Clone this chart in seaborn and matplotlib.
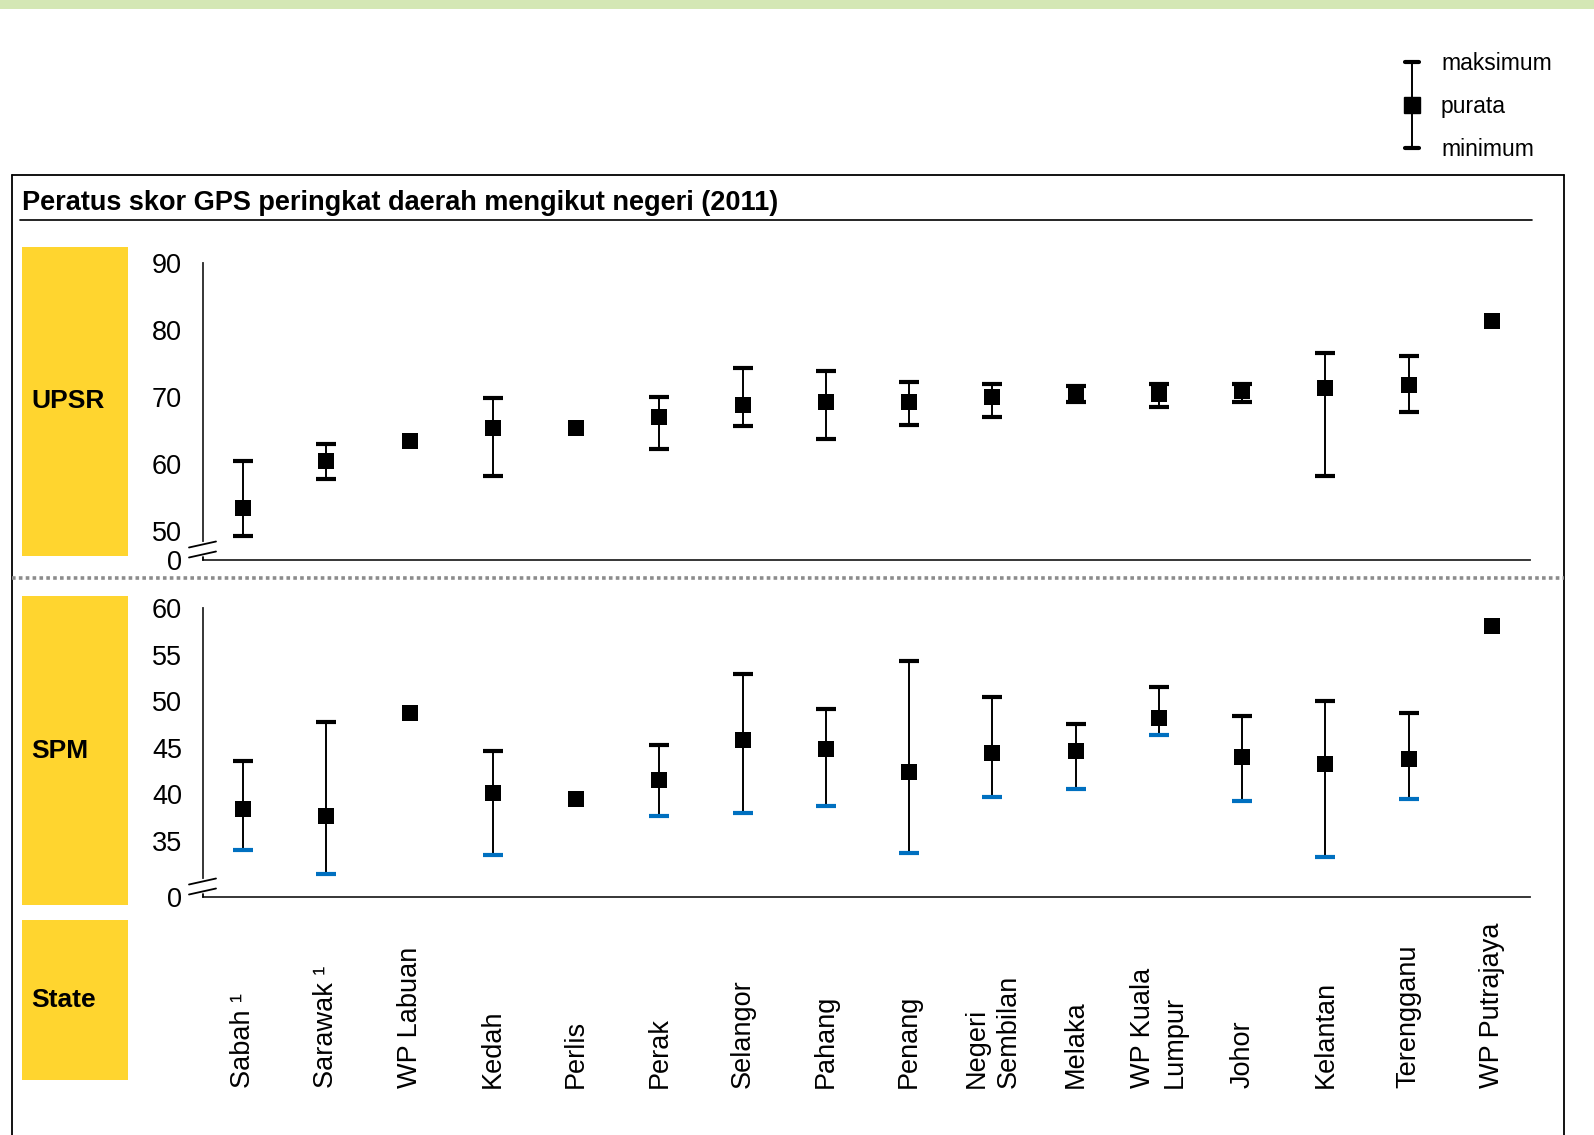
import matplotlib
matplotlib.use("Agg")
import numpy as np
import pandas as pd
import matplotlib.pyplot as plt
from matplotlib.lines import Line2D
from matplotlib.patches import Rectangle
import seaborn as sns

# -------------------------------
# Data
# -------------------------------
states = ["Sabah ¹", "Sarawak ¹", "WP Labuan", "Kedah", "Perlis", "Perak",
          "Selangor", "Pahang", "Penang", "Negeri\nSembilan", "Melaka",
          "WP Kuala\nLumpur", "Johor", "Kelantan", "Terengganu", "WP Putrajaya"]

upsr_mean = [53.5, 60.5, 63.5, 65.3, 65.3, 67.0, 68.8, 69.3, 69.3, 70.0, 70.5, 70.5, 70.9, 71.3, 71.8, 81.4]
upsr_max = [60.5, 63.0, 63.5, 69.8, 65.3, 70.0, 74.3, 73.9, 72.3, 72.0, 71.6, 72.0, 72.0, 76.6, 76.1, 81.4]
upsr_min = [49.2, 57.7, 63.5, 58.2, 65.3, 62.2, 65.6, 63.8, 65.8, 67.0, 69.3, 68.5, 69.3, 58.2, 67.8, 81.4]

spm_mean = [38.4, 37.7, 48.7, 40.2, 39.5, 41.5, 45.8, 44.9, 42.4, 44.4, 44.7, 48.2, 44.0, 43.3, 43.8, 58.1]
spm_max = [43.6, 47.8, 48.7, 44.7, 39.5, 45.3, 52.9, 49.2, 54.3, 50.4, 47.6, 51.5, 48.4, 50.0, 48.7, 58.1]
spm_min = [34.0, 31.5, 48.7, 33.5, 39.5, 37.7, 38.0, 38.8, 33.7, 39.7, 40.6, 46.4, 39.3, 33.3, 39.5, 58.1]

upsr_ticks = [50, 60, 70, 80, 90]
spm_ticks = [35, 40, 45, 50, 55, 60]

# -------------------------------
# Style
# -------------------------------
sns.set_style("white")
plt.rcParams['font.family'] = ['Liberation Sans', 'DejaVu Sans']
plt.rcParams['text.color'] = 'black'
plt.rcParams['axes.labelcolor'] = 'black'
plt.rcParams['xtick.color'] = 'black'
plt.rcParams['ytick.color'] = 'black'

W, H = 1594, 1135
fig = plt.figure(figsize=(W / 100, H / 100), dpi=100)

YELLOW = "#FFD52F"
BLUE = "#0070C0"


def px(x, y):
    # pixel position (from top-left) -> figure fraction
    return x / W, 1 - y / H


def fig_line(x0, y0, x1, y1, **kw):
    (a, b), (c, d) = px(x0, y0), px(x1, y1)
    fig.add_artist(Line2D([a, c], [b, d], transform=fig.transFigure, **kw))


def fig_rect(x0, y0, x1, y1, color):
    a, b = px(x0, y1)
    fig.add_artist(Rectangle((a, b), (x1 - x0) / W, (y1 - y0) / H,
                             transform=fig.transFigure, color=color, lw=0))


# top green band
fig_rect(0, 0, W, 9, "#D4E7B5")

# frame around the chart
fig_line(12, 175, 1564, 175, color="black", lw=1.3)
fig_line(12, 175, 12, H, color="black", lw=1.3)
fig_line(1564, 175, 1564, H, color="black", lw=1.3)

# title
fig.text(*px(22, 203), "Peratus skor GPS peringkat daerah mengikut negeri (2011)",
         fontsize=19.5, fontweight="bold", va="center", ha="left")
fig_line(20, 220, 1532, 220, color="black", lw=1.2)

# yellow row headers
for (y0, y1, lab) in [(247, 556, "UPSR"), (596, 905, "SPM"), (920, 1080, "State")]:
    fig_rect(22, y0, 128, y1, YELLOW)
    fig.text(*px(31, (y0 + y1) / 2), lab, fontsize=19, fontweight="bold",
             va="center", ha="left")

# dotted separator
fig_line(12, 578, 1564, 578, color="#8C8C8C", lw=2.6, ls=(0, (1, 0.9)))

pos = np.arange(len(states))
xlim = (-0.48, 15.456)


def panel(top, bottom, ymin, ymax, ticks, mean, vmax, vmin, min_color):
    ax = fig.add_axes([203 / W, 1 - bottom / H, (1530 - 203) / W, (bottom - top) / H])
    df = pd.DataFrame({"pos": pos, "mean": mean, "max": vmax, "min": vmin})

    # whiskers
    for _, r in df.iterrows():
        if r["max"] > r["mean"] or r["min"] < r["mean"]:
            ax.plot([r["pos"], r["pos"]], [r["min"], r["max"]], color="black",
                    lw=1.4, zorder=2, solid_capstyle="butt")
        if r["max"] > r["mean"]:
            ax.plot(r["pos"], r["max"], marker="_", ms=14, mew=3, color="black", zorder=3)
        if r["min"] < r["mean"]:
            ax.plot(r["pos"], r["min"], marker="_", ms=14, mew=3, color=min_color, zorder=3)

    sns.scatterplot(data=df, x="pos", y="mean", marker="s", s=135, color="black",
                    linewidth=0, ax=ax, zorder=4, legend=False)

    ax.set_xlim(*xlim)
    ax.set_ylim(ymin, ymax)
    ax.set_xticks([])
    ax.set_yticks([ymin] + ticks)
    ax.set_yticklabels(["0"] + [str(t) for t in ticks])
    ax.tick_params(axis="y", direction="in", length=8, width=1.3, pad=15,
                   labelsize=19.5, colors="black")
    ax.set_xlabel("")
    ax.set_ylabel("")
    for s in ["top", "right"]:
        ax.spines[s].set_visible(False)
    ppu = (bottom - top) / (ymax - ymin)
    ax.spines["left"].set_bounds(ymin + 19 / ppu, ymax)
    ax.spines["left"].set_linewidth(1.3)
    ax.spines["bottom"].set_linewidth(1.3)
    ax.patch.set_alpha(0)
    # stub below the axis break
    fig_line(203, bottom, 203, bottom - 3, color="black", lw=1.3)
    # break marks
    for off in (5.5, 15.5):
        yc = bottom - off
        fig_line(189, yc + 3, 216, yc - 3, color="black", lw=1.3)
    return ax


ax1 = panel(263, 560, 50 - 29 / 6.7, 90, upsr_ticks, upsr_mean, upsr_max, upsr_min, "black")
ax2 = panel(608, 897, 29.0, 60, spm_ticks, spm_mean, spm_max, spm_min, BLUE)

# state labels
for p, name in zip(pos, states):
    xf = ax2.transData.transform((p, 0))[0] / fig.bbox.width
    fig.text(xf, px(0, 1088)[1], name, rotation=90, ha="center", va="bottom",
             fontsize=19.5, multialignment="left", linespacing=1.3)

# legend (top right)
lx = 1412
fig_line(lx, 62, lx, 148, color="black", lw=1.4)
fig_line(lx - 7, 62, lx + 7, 62, color="black", lw=3)
fig_line(lx - 7, 148, lx + 7, 148, color="black", lw=3)
fig.add_artist(Line2D([px(lx, 0)[0]], [px(0, 105)[1]], transform=fig.transFigure,
                      marker="s", ms=11, color="black", lw=0))
for y, lab in [(64, "maksimum"), (107, "purata"), (150, "minimum")]:
    fig.text(*px(1441, y), lab, fontsize=16.5, va="center", ha="left")

fig.savefig("out.png", dpi=100)
